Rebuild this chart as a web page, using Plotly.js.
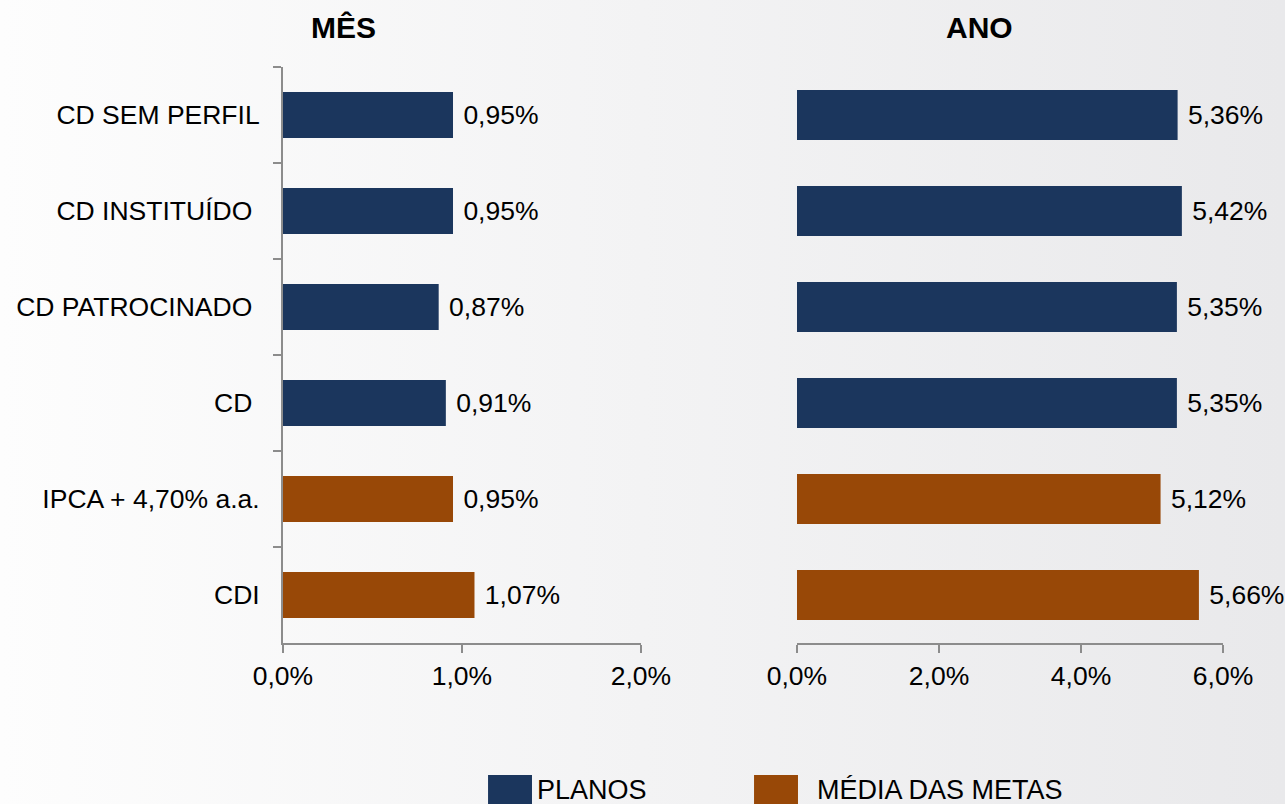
<!DOCTYPE html>
<html>
<head>
<meta charset="utf-8">
<script src="https://cdn.plot.ly/plotly-3.0.1.min.js"></script>
<style>
  html, body { margin: 0; padding: 0; }
  body { background: linear-gradient(to right, #fdfdfd 0%, #f3f3f4 50%, #e9e9eb 100%); }
  #chart { width: 1285px; height: 804px; }
</style>
</head>
<body>
<div id="chart"></div>
<script>
// categories (top to bottom)
const planosCats = ['CD SEM PERFIL', 'CD INSTITUÍDO\u00a0', 'CD PATROCINADO\u00a0', 'CD\u00a0'];
const metasCats = ['IPCA + 4,70% a.a.', 'CDI'];
const allCats = planosCats.concat(metasCats);

// values as fractions
const planosMes = [0.0095, 0.0095, 0.0087, 0.0091];
const metasMes = [0.0095, 0.0107];
const planosAno = [0.0536, 0.0542, 0.0535, 0.0535];
const metasAno = [0.0512, 0.0566];

const NAVY = '#1b365d';
const BROWN = '#984807';
const AXIS = '#8c8c8c';
const FONT = 'Liberation Sans, Arial, sans-serif';

function barTrace(x, y, color, xa, ya, w) {
    return {
        type: 'bar', orientation: 'h',
        x: x, y: y,
        xaxis: xa, yaxis: ya,
        width: w,
        marker: { color: color },
        texttemplate: '\u00a0%{x:.2%}',
        textposition: 'outside',
        cliponaxis: false,
        textfont: { family: FONT, size: 26.5, color: '#000' },
        showlegend: false,
        hoverinfo: 'skip'
    };
}

const data = [
    barTrace(planosMes, planosCats, NAVY, 'x', 'y', 0.48),
    barTrace(metasMes, metasCats, BROWN, 'x', 'y', 0.48),
    barTrace(planosAno, planosCats, NAVY, 'x2', 'y2', 0.52),
    barTrace(metasAno, metasCats, BROWN, 'x2', 'y2', 0.52)
];

const yBase = {
    type: 'category',
    categoryorder: 'array',
    categoryarray: allCats,
    range: [5.5, -0.5],
    domain: [0.2002, 0.9167],
    fixedrange: true
};

const layout = {
    width: 1285, height: 804,
    margin: { l: 0, r: 0, t: 0, b: 0 },
    paper_bgcolor: 'rgba(0,0,0,0)',
    plot_bgcolor: 'rgba(0,0,0,0)',
    separators: ',.',
    barmode: 'overlay',
    font: { family: FONT, size: 26.5, color: '#000' },
    xaxis: {
        domain: [0.2202, 0.4988],
        range: [0, 0.02], dtick: 0.01, tickformat: '.1%',
        showgrid: false, zeroline: false,
        showline: true, linecolor: AXIS, linewidth: 2,
        ticks: 'outside', ticklen: 8, tickcolor: AXIS, tickwidth: 2,
        anchor: 'y'
    },
    yaxis: Object.assign({}, yBase, {
        anchor: 'x',
        showgrid: false, zeroline: false,
        showline: true, linecolor: AXIS, linewidth: 2,
        ticks: 'outside', tickson: 'boundaries', ticklen: 8, tickcolor: AXIS, tickwidth: 2,
        ticklabelstandoff: 16
    }),
    xaxis2: {
        domain: [0.6202, 0.9518],
        range: [0, 0.06], dtick: 0.02, tickformat: '.1%',
        showgrid: false, zeroline: false,
        showline: true, linecolor: AXIS, linewidth: 2,
        ticks: 'outside', ticklen: 8, tickcolor: AXIS, tickwidth: 2,
        anchor: 'y2'
    },
    yaxis2: Object.assign({}, yBase, {
        anchor: 'x2',
        showgrid: false, zeroline: false, showline: false,
        showticklabels: false, ticks: ''
    }),
    annotations: [
        { text: '<b>MÊS</b>', xref: 'paper', yref: 'paper', x: 0.2677, y: 0.9664,
          showarrow: false, font: { size: 30 }, xanchor: 'center', yanchor: 'middle' },
        { text: '<b>ANO</b>', xref: 'paper', yref: 'paper', x: 0.7619, y: 0.9652,
          showarrow: false, font: { size: 30 }, xanchor: 'center', yanchor: 'middle' },
        { text: 'PLANOS', xref: 'paper', yref: 'paper', x: 0.4163, y: 0.0174,
          showarrow: false, font: { size: 27 }, xanchor: 'left', yanchor: 'middle' },
        { text: 'MÉDIA DAS METAS', xref: 'paper', yref: 'paper', x: 0.6342, y: 0.0174,
          showarrow: false, font: { size: 27 }, xanchor: 'left', yanchor: 'middle' }
    ],
    shapes: [
        { type: 'rect', xref: 'paper', yref: 'paper', x0: 0.3798, x1: 0.4140, y0: -0.02, y1: 0.0361,
          fillcolor: NAVY, line: { width: 0 } },
        { type: 'rect', xref: 'paper', yref: 'paper', x0: 0.5868, x1: 0.6210, y0: -0.02, y1: 0.0361,
          fillcolor: BROWN, line: { width: 0 } }
    ]
};

Plotly.newPlot('chart', data, layout, { displayModeBar: false, staticPlot: true });
</script>
</body>
</html>
